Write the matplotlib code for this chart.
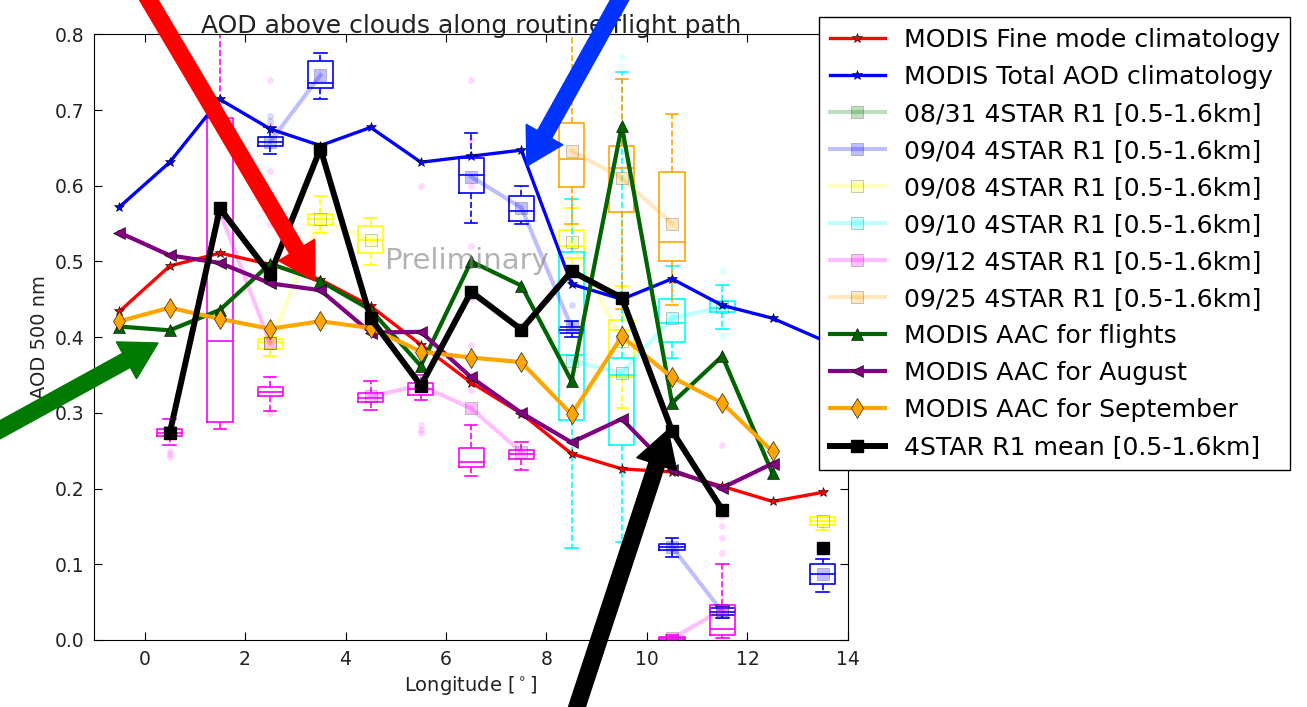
import numpy as np
import matplotlib
matplotlib.use("Agg")
import matplotlib.pyplot as plt
from matplotlib.patches import FancyArrow
from matplotlib.transforms import IdentityTransform

# Longitude bin centres
lon = [-0.5, 0.5, 1.5, 2.5, 3.5, 4.5, 5.5, 6.5, 7.5, 8.5, 9.5, 10.5, 11.5, 12.5, 13.5]
nan = np.nan

# MODIS climatologies
modis_fine = [0.434, 0.494, 0.511, 0.496, 0.476, 0.441, 0.390, 0.340, 0.299, 0.246, 0.226, 0.222, 0.203, 0.183, 0.195]
modis_total = [0.572, 0.631, 0.714, 0.675, 0.653, 0.677, 0.631, 0.639, 0.647, 0.470, 0.450, 0.477, 0.442, 0.425, 0.396]

# MODIS above-cloud AOD
aac_flights = [0.414, 0.409, 0.436, 0.497, 0.474, 0.436, 0.362, 0.500, 0.468, 0.342, 0.679, 0.313, 0.375, 0.220, nan]
aac_august = [0.538, 0.508, 0.498, 0.471, 0.462, 0.406, 0.407, 0.347, 0.300, 0.261, 0.292, 0.224, 0.201, 0.233, nan]
aac_september = [0.421, 0.439, 0.424, 0.411, 0.421, 0.412, 0.381, 0.373, 0.367, 0.298, 0.401, 0.347, 0.313, 0.249, nan]

# 4STAR mean over all flights
star_mean = [nan, 0.273, 0.570, 0.483, 0.649, 0.425, 0.336, 0.460, 0.410, 0.487, 0.452, 0.276, 0.172, nan, 0.121]

# Per-flight 4STAR statistics (box positions, quartiles, whiskers, means)
d0904_pos = [2.5, 3.5, 6.5, 7.5, 8.5, 10.5, 11.5, 13.5]
d0904_q1 = [0.653, 0.729, 0.590, 0.554, 0.406, 0.119, 0.033, 0.074]
d0904_med = [0.658, 0.736, 0.614, 0.566, 0.410, 0.123, 0.037, 0.087]
d0904_q3 = [0.664, 0.765, 0.636, 0.586, 0.414, 0.127, 0.042, 0.100]
d0904_lo = [0.642, 0.715, 0.551, 0.549, 0.400, 0.109, 0.029, 0.063]
d0904_hi = [0.678, 0.775, 0.669, 0.599, 0.421, 0.135, 0.045, 0.107]
d0904_fliers = [[0.685, 0.692], [], [], [], [0.442], [], [], []]
d0904_mean = [nan, nan, nan, 0.658, 0.746, nan, nan, 0.612, 0.571, 0.413, nan, 0.123, 0.037, nan, 0.087]

d0908_pos = [2.5, 3.5, 4.5, 8.5, 9.5, 13.5]
d0908_q1 = [0.384, 0.548, 0.511, 0.505, 0.347, 0.152]
d0908_med = [0.393, 0.556, 0.528, 0.520, 0.410, 0.157]
d0908_q3 = [0.398, 0.563, 0.547, 0.542, 0.423, 0.162]
d0908_lo = [0.375, 0.537, 0.495, 0.490, 0.306, 0.145]
d0908_hi = [0.400, 0.586, 0.557, 0.570, 0.468, 0.164]
d0908_fliers = [[], [], [], [], [], []]
d0908_mean = [nan, nan, nan, 0.392, 0.556, 0.528, nan, nan, nan, 0.525, 0.395, nan, nan, nan, 0.157]

d0910_pos = [8.5, 9.5, 10.5, 11.5]
d0910_q1 = [0.291, 0.257, 0.393, 0.433]
d0910_med = [0.377, 0.350, 0.419, 0.439]
d0910_q3 = [0.513, 0.373, 0.450, 0.448]
d0910_lo = [0.121, 0.130, 0.373, 0.411]
d0910_hi = [0.583, 0.750, 0.494, 0.469]
d0910_fliers = [[], [0.77], [], [0.487, 0.402]]
d0910_mean = [nan, nan, nan, nan, nan, nan, nan, nan, nan, 0.368, 0.353, 0.425, 0.440, nan, nan]

d0912_pos = [0.5, 1.5, 2.5, 4.5, 5.5, 6.5, 7.5, 10.5, 11.5]
d0912_q1 = [0.270, 0.288, 0.322, 0.314, 0.324, 0.229, 0.239, 0.000, 0.007]
d0912_med = [0.274, 0.395, 0.328, 0.320, 0.332, 0.235, 0.246, 0.002, 0.015]
d0912_q3 = [0.279, 0.690, 0.334, 0.326, 0.339, 0.253, 0.251, 0.004, 0.046]
d0912_lo = [0.258, 0.279, 0.303, 0.304, 0.317, 0.216, 0.224, 0.000, 0.003]
d0912_hi = [0.292, 0.860, 0.347, 0.342, 0.350, 0.284, 0.261, 0.006, 0.101]
d0912_fliers = [[0.249, 0.245, 0.242], [],
                [0.300, 0.48, 0.55, 0.62, 0.68, 0.74], [],
                [0.284, 0.278, 0.274, 0.60],
                [0.33, 0.39, 0.45, 0.52, 0.60, 0.66, 0.74], [], [],
                [0.115, 0.135, 0.150, 0.164, 0.257]]
d0912_mean = [nan, 0.275, 0.565, 0.392, nan, 0.322, 0.336, 0.306, 0.248, nan, nan, 0.002, 0.040, nan, nan]

d0925_pos = [8.5, 9.5, 10.5]
d0925_q1 = [0.598, 0.565, 0.500]
d0925_med = [0.635, 0.624, 0.525]
d0925_q3 = [0.683, 0.652, 0.618]
d0925_lo = [0.549, 0.437, 0.442]
d0925_hi = [0.860, 0.741, 0.695]
d0925_fliers = [[], [], []]
d0925_mean = [nan, nan, nan, nan, nan, nan, nan, nan, nan, 0.646, 0.610, 0.550, nan, nan, nan]

flights = [
    ("08/31", "g", None),
    ("09/04", "b", (d0904_pos, d0904_q1, d0904_med, d0904_q3, d0904_lo, d0904_hi, d0904_fliers, d0904_mean)),
    ("09/08", "#ffff00", (d0908_pos, d0908_q1, d0908_med, d0908_q3, d0908_lo, d0908_hi, d0908_fliers, d0908_mean)),
    ("09/10", "#00ffff", (d0910_pos, d0910_q1, d0910_med, d0910_q3, d0910_lo, d0910_hi, d0910_fliers, d0910_mean)),
    ("09/12", "#ff00ff", (d0912_pos, d0912_q1, d0912_med, d0912_q3, d0912_lo, d0912_hi, d0912_fliers, d0912_mean)),
    ("09/25", "#ffa500", (d0925_pos, d0925_q1, d0925_med, d0925_q3, d0925_lo, d0925_hi, d0925_fliers, d0925_mean)),
]

plt.rcParams["font.family"] = ["DejaVu Sans"]
fig = plt.figure(figsize=(13.07, 7.07), dpi=100)
ax = fig.add_axes([0.0722, 0.0948, 0.5765, 0.8567])

handles = []
h, = ax.plot(lon, modis_fine, color="r", lw=2.4, marker="*", ms=7, mec="k", mew=0.4,
             label="MODIS Fine mode climatology", zorder=4)
handles.append(h)
h, = ax.plot(lon, modis_total, color="b", lw=2.4, marker="*", ms=7, mec="k", mew=0.4,
             label="MODIS Total AOD climatology", zorder=4)
handles.append(h)

for name, col, data in flights:
    label = name + " 4STAR R1 [0.5-1.6km]"
    if data is None:
        h, = ax.plot([], [], color=col, lw=3, alpha=0.25, marker="s", ms=9, mec="k", mew=0.6, label=label)
        handles.append(h)
        continue
    pos, q1, med, q3, lo, hi, fl, mean = data
    stats = [dict(q1=a, med=b, q3=c, whislo=d, whishi=e, fliers=f)
             for a, b, c, d, e, f in zip(q1, med, q3, lo, hi, fl)]
    ax.bxp(stats, positions=pos, widths=0.5, manage_ticks=False,
           boxprops=dict(color=col, lw=1.2),
           whiskerprops=dict(color=col, lw=1.2, ls="--"),
           capprops=dict(color=col, lw=1.2),
           medianprops=dict(color=col, lw=1.2),
           flierprops=dict(marker="o", mfc=col, mec="none", ms=5, alpha=0.15))
    h, = ax.plot(lon, mean, color=col, lw=3, alpha=0.25, marker="s", ms=9, mec="k", mew=0.6,
                 label=label, zorder=3)
    handles.append(h)

h, = ax.plot(lon, aac_flights, color="#006400", lw=3, marker="^", ms=9, mec="k", mew=0.4,
             label="MODIS AAC for flights", zorder=4)
handles.append(h)
h, = ax.plot(lon, aac_august, color="#800080", lw=3, marker="<", ms=9, mec="k", mew=0.4,
             label="MODIS AAC for August", zorder=5)
handles.append(h)
h, = ax.plot(lon, aac_september, color="#ffa500", lw=3, marker="d", ms=10, mec="k", mew=0.4,
             label="MODIS AAC for September", zorder=5)
handles.append(h)
h, = ax.plot(lon, star_mean, color="k", lw=4.3, marker="s", ms=8, mec="k",
             label="4STAR R1 mean [0.5-1.6km]", zorder=6)
handles.append(h)

ax.text(6.4, 0.50, "Preliminary", fontsize=21, color="gray", alpha=0.6,
        ha="center", va="center", zorder=7)

ax.set_xlim(-1, 14)
ax.set_ylim(0, 0.8)
ax.set_xticks(np.arange(0, 15, 2))
ax.set_yticks(np.arange(0, 0.81, 0.1))
ax.set_yticklabels([f"{v:.1f}" for v in np.arange(0, 0.81, 0.1)])
ax.tick_params(direction="in", top=True, right=True, length=6, labelsize=13.5,
               labelcolor="#222222", pad=7)
ax.set_title("AOD above clouds along routine flight path", fontsize=18, color="#222222", pad=1)
ax.set_xlabel(r"Longitude [$^\circ$]", fontsize=14, color="#222222")
ax.set_ylabel("AOD 500 nm", fontsize=14, color="#222222")

leg = fig.legend(handles=handles, loc="upper left", bbox_to_anchor=(0.6266, 0.976),
                 bbox_transform=fig.transFigure, borderaxespad=0, fontsize=18.1,
                 fancybox=False, framealpha=1, edgecolor="k", handlelength=2.2,
                 labelspacing=0.52, handletextpad=0.75, borderpad=0.42)
leg.get_frame().set_linewidth(1.0)

# Callout arrows (display pixels, origin bottom-left)
H = 707
def arrow(tail, tip, color):
    x0, y0 = tail[0], H - tail[1]
    x1, y1 = tip[0], H - tip[1]
    a = FancyArrow(x0, y0, x1 - x0, y1 - y0, width=16, head_width=42, head_length=36,
                   length_includes_head=True, color=color, transform=IdentityTransform(),
                   zorder=20)
    fig.patches.append(a)

arrow((140, -15), (315, 281), "#ff0000")
arrow((628, -15), (527, 166), "#0033ff")
arrow((-15, 438), (158, 343), "#007a00")
arrow((572, 722), (668, 430), "#000000")

fig.savefig("out.png", dpi=100)
